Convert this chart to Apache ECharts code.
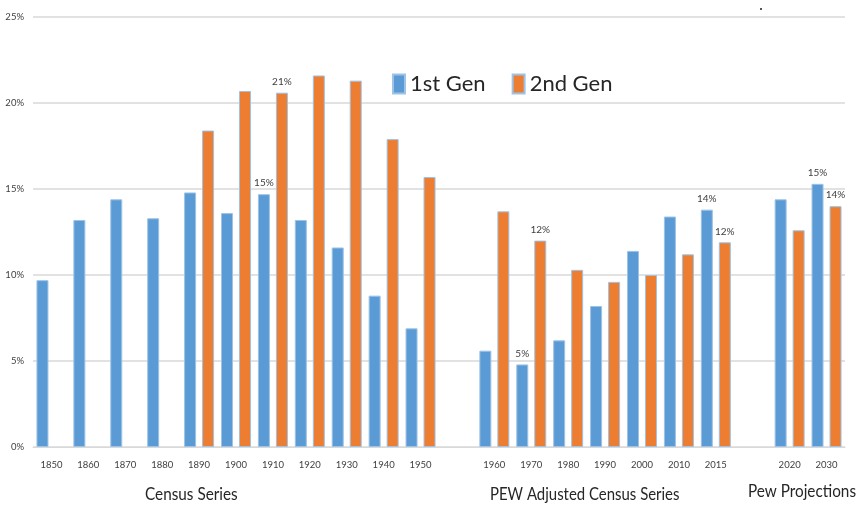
<!DOCTYPE html>
<html>
<head>
<meta charset="utf-8">
<script src="https://cdn.jsdelivr.net/npm/echarts@6/dist/echarts.min.js"></script>
<style>
  html, body { margin: 0; padding: 0; background: #fff; }
  #chart { width: 857px; height: 505px; }
</style>
</head>
<body>
<div id="chart"></div>
<script>
// categories (empty strings are the gaps between the three series groups)
const years = ["1850", "1860", "1870", "1880", "1890", "1900", "1910", "1920", "1930", "1940", "1950", "",
  "1960", "1970", "1980", "1990", "2000", "2010", "2015", "",
  "2020", "2030"];
// share of population, %
const firstGen = [9.7, 13.2, 14.4, 13.3, 14.8, 13.6, 14.7, 13.2, 11.6, 8.8, 6.9, null,
  5.6, 4.8, 6.2, 8.2, 11.4, 13.4, 13.8, null,
  14.4, 15.3];
const secondGen = [null, null, null, null, 18.4, 20.7, 20.6, 21.6, 21.3, 17.9, 15.7, null,
  13.7, 12.0, 10.3, 9.6, 10.0, 11.2, 11.9, null,
  12.6, 14.0];
// bars that carry a value label
const labelledFirst = ["1910", "1970", "2015", "2030"];
const labelledSecond = ["1910", "1970", "2015", "2030"];
const yTicks = [0, 5, 10, 15, 20, 25];
const groupTitles = ["Census Series", "PEW Adjusted Census Series", "Pew Projections"];

const FONT = "Lato, 'Noto Sans', sans-serif";

function pctLabel(list) {
  return {
    show: true,
    position: "top",
    distance: 6,
    color: "#404040",
    fontSize: 10,
    fontFamily: FONT,
    formatter: p => list.indexOf(p.name) >= 0 ? Math.round(p.value) + "%" : ""
  };
}

const chartObj = echarts.init(document.getElementById("chart"));
const option = {
  animation: false,
  textStyle: { fontFamily: FONT },
  grid: { left: 33, right: 12, top: 17, bottom: 58 },
  legend: {
    top: 68,
    left: 387,
    itemWidth: 12,
    itemHeight: 19,
    itemGap: 26,
    icon: "rect",
    textStyle: { fontSize: 22, color: "#262626", fontFamily: FONT },
    data: ["1st Gen", "2nd Gen"]
  },
  xAxis: {
    type: "category",
    data: years,
    axisTick: { show: false },
    axisLine: { lineStyle: { color: "#d9d9d9", width: 1 } },
    axisLabel: { interval: 0, fontSize: 9.5, color: "#404040", margin: 13 }
  },
  yAxis: {
    type: "value",
    min: yTicks[0],
    max: yTicks[yTicks.length - 1],
    interval: 5,
    axisLabel: { formatter: "{value}%", fontSize: 9.5, color: "#404040", margin: 9 },
    splitLine: { lineStyle: { color: "#d9d9d9", width: 1.5 } },
    axisLine: { show: false },
    axisTick: { show: false }
  },
  series: [
    {
      name: "1st Gen",
      type: "bar",
      data: firstGen,
      barWidth: 12,
      barGap: "50%",
      itemStyle: { color: "#5b9bd5", borderColor: "#9dc3e6", borderWidth: 1 },
      label: pctLabel(labelledFirst)
    },
    {
      name: "2nd Gen",
      type: "bar",
      data: secondGen,
      barWidth: 12,
      itemStyle: { color: "#ed7d31", borderColor: "#9dc3e6", borderWidth: 1 },
      label: pctLabel(labelledSecond)
    }
  ],
  graphic: [
    { type: "text", left: 145, top: 485, scaleX: 0.85, style: { text: groupTitles[0], fontSize: 18, fill: "#262626", fontFamily: FONT } },
    { type: "text", left: 490, top: 485, scaleX: 0.83, style: { text: groupTitles[1], fontSize: 18, fill: "#262626", fontFamily: FONT } },
    { type: "text", right: 1, top: 482, scaleX: 0.85, style: { text: groupTitles[2], fontSize: 18, fill: "#262626", fontFamily: FONT } },
    { type: "rect", left: 760, top: 8, shape: { width: 2, height: 2 }, style: { fill: "#555" } }
  ]
};
chartObj.setOption(option);
window.addEventListener("resize", function() {
  chartObj.resize();
});
</script>
</body>
</html>
